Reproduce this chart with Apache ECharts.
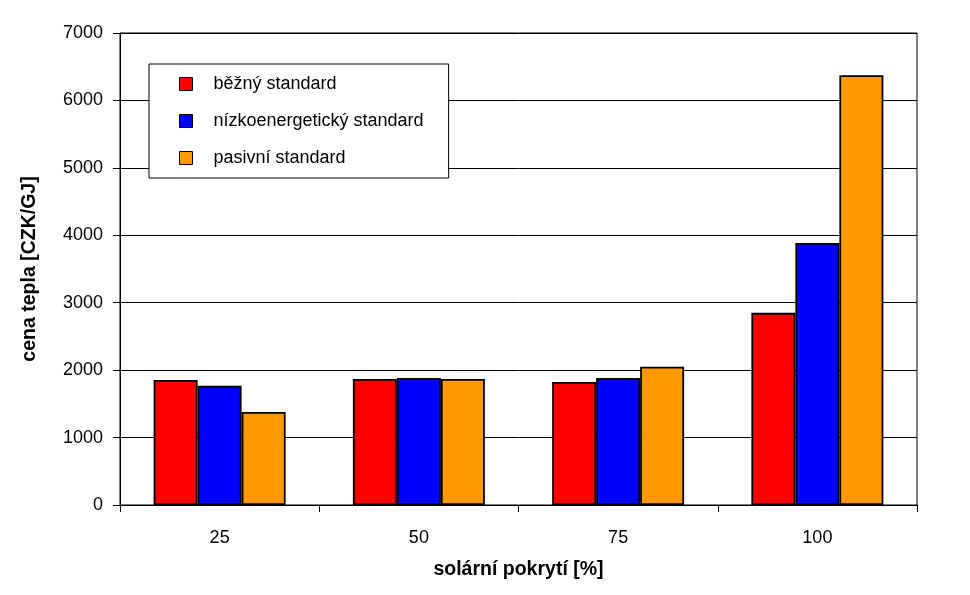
<!DOCTYPE html>
<html>
<head>
<meta charset="utf-8">
<script src="https://cdn.jsdelivr.net/npm/echarts@6/dist/echarts.min.js"></script>
<style>html,body{margin:0;padding:0;background:#fff}#c{width:970px;height:595px}</style>
</head>
<body>
<div id="c"></div>
<script>
const categories = ['25', '50', '75', '100'];
const seriesNames = ['běžný standard', 'nízkoenergetický standard', 'pasivní standard'];
const bezny = [1855, 1870, 1825, 2850];
const nizko = [1770, 1885, 1885, 3885];
const pasivni = [1380, 1870, 2050, 6375];
const yTicks = [0, 1000, 2000, 3000, 4000, 5000, 6000, 7000];

const colors = ['#FF0000', '#0000FF', '#FF9900'];
const values = [bezny, nizko, pasivni];
const FONT = 'Liberation Sans, Arial, sans-serif';

const chart = echarts.init(document.getElementById('c'), null, {renderer: 'canvas'});
chart.setOption({
  animation: false,
  backgroundColor: '#fff',
  textStyle: {fontFamily: FONT, color: '#000'},
  grid: {left: 120, top: 33, right: 53, bottom: 90, show: true, borderColor: '#000', borderWidth: 1, backgroundColor: 'transparent'},
  legend: {
    orient: 'vertical',
    left: 149, top: 64,
    data: seriesNames,
    itemWidth: 13, itemHeight: 13,
    itemGap: 19,
    padding: [11, 25, 11, 30],
    backgroundColor: '#fff',
    borderColor: '#000', borderWidth: 1, borderRadius: 0,
    icon: 'rect',
    textStyle: {fontFamily: FONT, fontSize: 18, color: '#000', padding: [0, 0, 0, 16], lineHeight: 18},
    itemStyle: {borderColor: '#000', borderWidth: 1}
  },
  xAxis: {
    type: 'category',
    data: categories,
    name: 'solární pokrytí [%]',
    nameLocation: 'middle',
    nameGap: 55,
    nameTextStyle: {fontFamily: FONT, fontSize: 19.5, fontWeight: 'bold', color: '#000'},
    axisLine: {lineStyle: {color: '#000', width: 1}},
    axisTick: {show: true, length: 7, lineStyle: {color: '#000'}},
    axisLabel: {fontFamily: FONT, fontSize: 18, color: '#000', margin: 24}
  },
  yAxis: {
    type: 'value',
    min: yTicks[0], max: yTicks[yTicks.length - 1], interval: 1000,
    name: 'cena tepla [CZK/GJ]',
    nameLocation: 'middle',
    nameGap: 80,
    nameTextStyle: {fontFamily: FONT, fontSize: 19.5, fontWeight: 'bold', color: '#000'},
    axisLine: {show: true, lineStyle: {color: '#000', width: 1}},
    axisTick: {show: true, length: 7, lineStyle: {color: '#000'}},
    axisLabel: {fontFamily: FONT, fontSize: 18, color: '#000', margin: 17, formatter: v => String(v)},
    splitLine: {show: true, lineStyle: {color: '#000', width: 1}}
  },
  series: seriesNames.map((n, i) => ({
    name: n,
    type: 'bar',
    data: values[i],
    barWidth: 44,
    barGap: '0%',
    itemStyle: {color: colors[i], borderColor: '#000', borderWidth: 1.8}
  }))
});
</script>
</body>
</html>
